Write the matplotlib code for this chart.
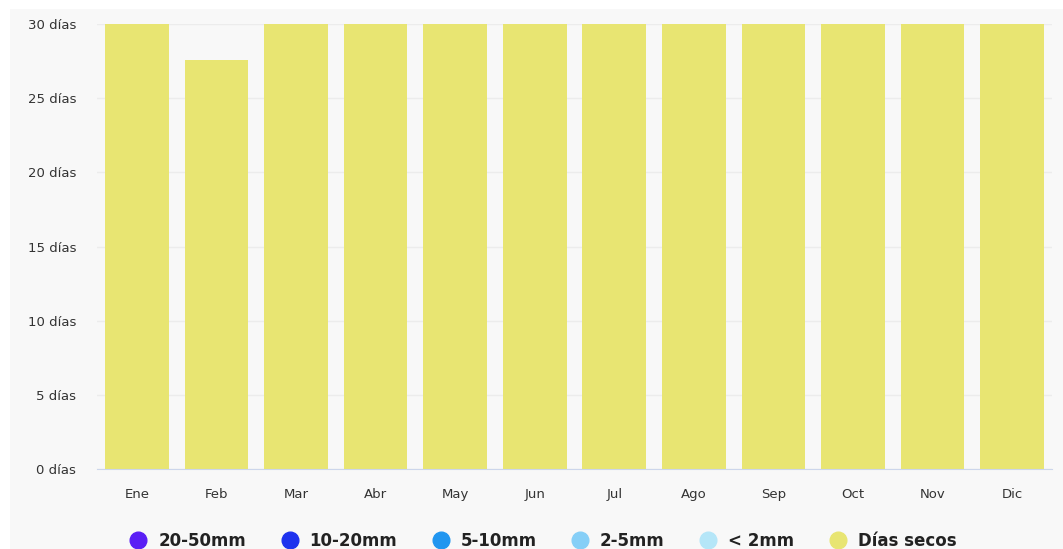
import matplotlib
matplotlib.use("Agg")
import matplotlib.pyplot as plt
from matplotlib.lines import Line2D
from matplotlib.patches import Rectangle
import numpy as np

months = ["Ene", "Feb", "Mar", "Abr", "May", "Jun", "Jul", "Ago", "Sep", "Oct", "Nov", "Dic"]
dias_secos = [30, 27.6, 30, 30, 30, 30, 30, 30, 30, 30, 30, 30]
lluvia_20_50 = [0] * 12
lluvia_10_20 = [0] * 12
lluvia_5_10 = [0] * 12
lluvia_2_5 = [0] * 12
lluvia_menos_2 = [0] * 12

series = [
    ("20-50mm", lluvia_20_50, "#5a1ef5"),
    ("10-20mm", lluvia_10_20, "#1e32ee"),
    ("5-10mm", lluvia_5_10, "#2196f0"),
    ("2-5mm", lluvia_2_5, "#86cff7"),
    ("< 2mm", lluvia_menos_2, "#b5e6f8"),
    ("Días secos", dias_secos, "#e8e572"),
]

bg = "#f8f8f8"
fig = plt.figure(figsize=(10.63, 5.49), dpi=100, facecolor="white")
fig.patches.append(Rectangle((10 / 1063, 0), 1, 1 - 9 / 549, transform=fig.transFigure,
                             facecolor=bg, edgecolor="none", zorder=-5))
ax = fig.add_axes([97 / 1063, 80 / 549, 955 / 1063, 445 / 549])
ax.set_facecolor(bg)

x = np.arange(len(months))
bottom = np.zeros(len(months))
for name, vals, col in series:
    ax.bar(x, vals, width=0.8, bottom=bottom, color=col, zorder=2)
    bottom += np.array(vals)

ax.set_xlim(-0.5, 11.5)
ax.set_ylim(0, 30)
ax.set_yticks(range(0, 31, 5))
ax.set_yticklabels([f"{v} días" for v in range(0, 31, 5)])
ax.set_xticks(x)
ax.set_xticklabels(months)
ax.tick_params(axis="both", length=0, labelsize=9.5, colors="#333333")
ax.tick_params(axis="y", pad=15)
ax.tick_params(axis="x", pad=14)
ax.grid(axis="y", color="#ececec", linewidth=1, zorder=1)
for s in ["top", "right", "left"]:
    ax.spines[s].set_visible(False)
ax.spines["bottom"].set_color("#ccd6eb")
ax.spines["bottom"].set_zorder(3)

handles = [Line2D([], [], marker="o", linestyle="none", markersize=12,
                  markerfacecolor=col, markeredgecolor=col) for _, _, col in series]
labels = [name for name, _, _ in series]
leg = fig.legend(handles, labels, loc="center", bbox_to_anchor=(0.511, 1 - 541 / 549),
                 ncol=6, frameon=False, handletextpad=0.7, columnspacing=2.1,
                 handlelength=1.0, prop={"weight": "bold", "size": 12})
for t in leg.get_texts():
    t.set_color("#222222")

fig.savefig("out.png", dpi=100, facecolor="white")
